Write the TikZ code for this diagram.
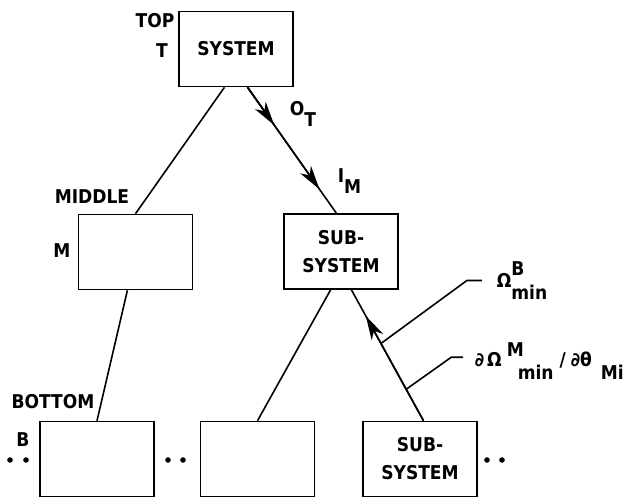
\documentclass[tikz,border=0pt]{standalone}
\usepackage{fontspec}
\setmainfont{DejaVu Sans Condensed}
\usetikzlibrary{arrows.meta,calc}
\newcommand{\supsub}[2]{\rlap{\raisebox{.6em}{#1}}\raisebox{-.65em}{#2}}
\newcommand{\subtxt}[1]{\raisebox{-.63em}{#1}}

\begin{document}
\begin{tikzpicture}[x=1pt,y=-1pt,line width=1.6pt,font=\fontsize{19}{23}\selectfont\bfseries,
        >={Stealth[length=24pt,width=13pt,inset=7pt]}]
        \tikzstyle{unit} = [draw, minimum width=114pt, minimum height=75pt, inner sep=0pt, align=center]
        \tikzstyle{lbl} = [inner sep=0pt]

        \useasboundingbox (0,0) rectangle (624,499);

        % Boxes
        \node[unit] (top) at (236,49) {SYSTEM};
        \node[unit] (mid) at (135.5,252) {};
        \node[unit] (sub) at (341,251.5) {SUB-\\[5pt]SYSTEM};
        \node[unit] (bl) at (97,459) {};
        \node[unit] (bm) at (257.5,459) {};
        \node[unit] (br) at (420,459) {SUB-\\[5pt]SYSTEM};

        % Level labels
        \node[lbl] (topl) at (155,21) {TOP};
        \node[lbl] (tl) at (162,51) {T};
        \node[lbl] (midl) at (92,197) {MIDDLE};
        \node[lbl] (ml) at (62,251) {M};
        \node[lbl] (botl) at (53,402) {BOTTOM};
        \node[lbl] (bl2) at (23,440) {B};

        % Flow labels
        \node[lbl, anchor=base west] (ot) at (289,115) {O\subtxt{T}};
        \node[lbl, anchor=base west] (im) at (337,182) {I\subtxt{M}};
        \node[lbl, anchor=base west] (omb) at (496,287) {Ω\supsub{B}{min}};
        \node[lbl, anchor=base west] (dom) at (474,366)
            {∂\,Ω\kern5pt\rlap{\raisebox{.5em}{M}}\kern11pt\raisebox{-.7em}{min}\kern6pt/\kern5pt∂θ\kern9pt\raisebox{-.7em}{Mi}};

        % Dots
        \foreach \x in {10,26,168,183,487,502}
            \fill (\x,460) circle (2.8pt);

        % Edges
        \coordinate (o1) at ($(top.south west)!.6!(top.south east)$);
        \coordinate (i1) at ($(sub.north west)!.46!(sub.north east)$);
        \coordinate (u0) at ($(br.north west)!.53!(br.north east)$);
        \coordinate (u1) at ($(sub.south west)!.59!(sub.south east)$);
        \draw ($(top.south west)!.4!(top.south east)$) -- (mid.north);
        \draw (o1) -- (i1);
        \draw[->] (o1) -- ($(o1)!.30!(i1)$);
        \draw[->] (o1) -- ($(o1)!.81!(i1)$);
        \draw ($(mid.south west)!.43!(mid.south east)$) -- (bl.north);
        \draw ($(sub.south west)!.41!(sub.south east)$) -- (bm.north);
        \draw (u0) -- coordinate[pos=.24] (k2) coordinate[pos=.59] (k1) (u1);
        \draw[->] (u0) -- ($(u0)!.80!(u1)$);
        \draw (k1) -- ++(86,-63) -- ++(15,0);
        \draw (k2) -- ++(45,-32) -- ++(12,0);
\end{tikzpicture}
\end{document}
